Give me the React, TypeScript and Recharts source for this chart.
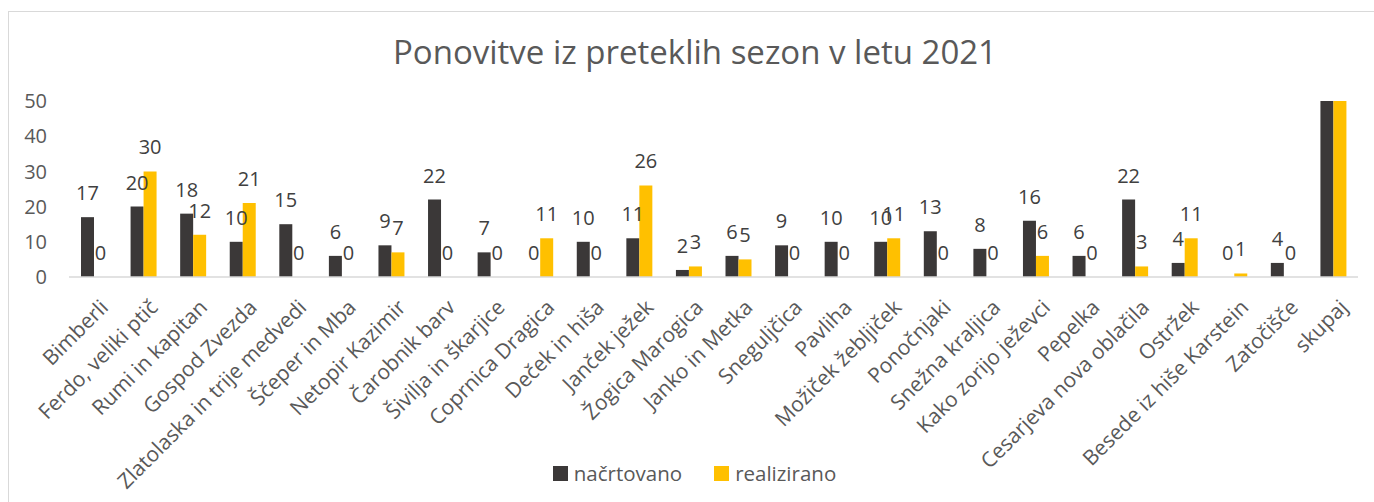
import { BarChart, Bar, XAxis, YAxis, Legend, LabelList } from 'recharts';

const categories = [
  'Bimberli',
  'Ferdo, veliki ptič',
  'Rumi in kapitan',
  'Gospod Zvezda',
  'Zlatolaska in trije medvedi',
  'Ščeper in Mba',
  'Netopir Kazimir',
  'Čarobnik barv',
  'Šivilja in škarjice',
  'Coprnica Dragica',
  'Deček in hiša',
  'Janček ježek',
  'Žogica Marogica',
  'Janko in Metka',
  'Sneguljčica',
  'Pavliha',
  'Možiček žebljiček',
  'Ponočnjaki',
  'Snežna kraljica',
  'Kako zorijo ježevci',
  'Pepelka',
  'Cesarjeva nova oblačila',
  'Ostržek',
  'Besede iz hiše Karstein',
  'Zatočišče',
  'skupaj',
];

const planned = [17, 20, 18, 10, 15, 6, 9, 22, 7, 0, 10, 11, 2, 6, 9, 10, 10, 13, 8, 16, 6, 22, 4, 0, 4, 255];
const realized = [0, 30, 12, 21, 0, 0, 7, 0, 0, 11, 0, 26, 3, 5, 0, 0, 11, 0, 0, 6, 0, 3, 11, 1, 0, 147];

const yTicks = [0, 10, 20, 30, 40, 50];
const Y_MAX = 50;

const FONT = '"Open Sans", sans-serif';
const DARK = '#3B3838';
const YELLOW = '#FFC000';
const TEXT = '#595959';
const LABEL = '#404040';

const data = categories.map((name, i) => ({
  name,
  plan: planned[i],
  real: realized[i],
}));

const CategoryTick = ({ x, y, payload }: any) => (
  <g transform={`translate(${x + 5},${y + 21})`}>
    <text transform="rotate(-45)" textAnchor="end" dy="0.72em" fill={TEXT} fontSize={21} fontFamily={FONT}>
      {payload.value}
    </text>
  </g>
);

// Excel hides the labels of bars that run past the axis max
const BarLabel = ({ x, y, width, value }: any) => {
  if (value > Y_MAX) return null;
  return (
    <text x={x + width / 2} y={y - 17} textAnchor="middle" fill={LABEL} fontSize={20} fontFamily={FONT}>
      {value}
    </text>
  );
};

const LegendContent = () => (
  <div
    style={{
      height: 50,
      display: 'flex',
      justifyContent: 'center',
      alignItems: 'flex-start',
      paddingTop: 8,
      paddingLeft: 31,
      boxSizing: 'border-box',
      fontFamily: FONT,
      fontSize: 20.5,
      color: TEXT,
    }}
  >
    {[
      { label: 'načrtovano', color: DARK },
      { label: 'realizirano', color: YELLOW },
    ].map((item, i) => (
      <div key={item.label} style={{ display: 'flex', alignItems: 'center', height: 26, marginLeft: i ? 32 : 0 }}>
        <span style={{ width: 15, height: 15, background: item.color, marginRight: 6, display: 'inline-block' }} />
        <span>{item.label}</span>
      </div>
    ))}
  </div>
);

export default function App() {
  return (
    <div style={{ position: 'absolute', left: 0, top: 0, width: 1374, height: 502, overflow: 'hidden', background: '#fff' }}>
      <div
        style={{
          position: 'absolute',
          left: 8,
          top: 11,
          width: 1400,
          height: 520,
          borderLeft: '1.5px solid #D9D9D9',
          borderTop: '1.5px solid #D9D9D9',
        }}
      />
      <svg width={1374} height={502} style={{ position: 'absolute', left: 0, top: 0 }}>
        <text x={695} y={64} textAnchor="middle" fill={TEXT} fontSize={33} fontFamily={FONT}>
          Ponovitve iz preteklih sezon v letu 2021
        </text>
      </svg>
      <div style={{ position: 'absolute', left: 0, top: 0 }}>
        <BarChart
          width={1374}
          height={502}
          data={data}
          margin={{ top: 101, right: 16, left: 0, bottom: 0 }}
          barGap={0}
          barSize={13}
        >
          <XAxis
            dataKey="name"
            interval={0}
            height={175}
            tickLine={false}
            tickSize={0}
            tickMargin={0}
            axisLine={{ stroke: '#D9D9D9', strokeWidth: 1.5 }}
            tick={<CategoryTick />}
          />
          <YAxis
            width={69}
            domain={[0, Y_MAX]}
            ticks={yTicks}
            allowDataOverflow
            axisLine={false}
            tickLine={false}
            tickMargin={16}
            tick={{ fill: TEXT, fontSize: 20, fontFamily: FONT }}
          />
          <Legend verticalAlign="bottom" content={<LegendContent />} />
          <Bar dataKey="plan" name="načrtovano" fill={DARK} minPointSize={0.01} isAnimationActive={false}>
            <LabelList dataKey="plan" content={<BarLabel />} />
          </Bar>
          <Bar dataKey="real" name="realizirano" fill={YELLOW} minPointSize={0.01} isAnimationActive={false}>
            <LabelList dataKey="real" content={<BarLabel />} />
          </Bar>
        </BarChart>
      </div>
    </div>
  );
}
